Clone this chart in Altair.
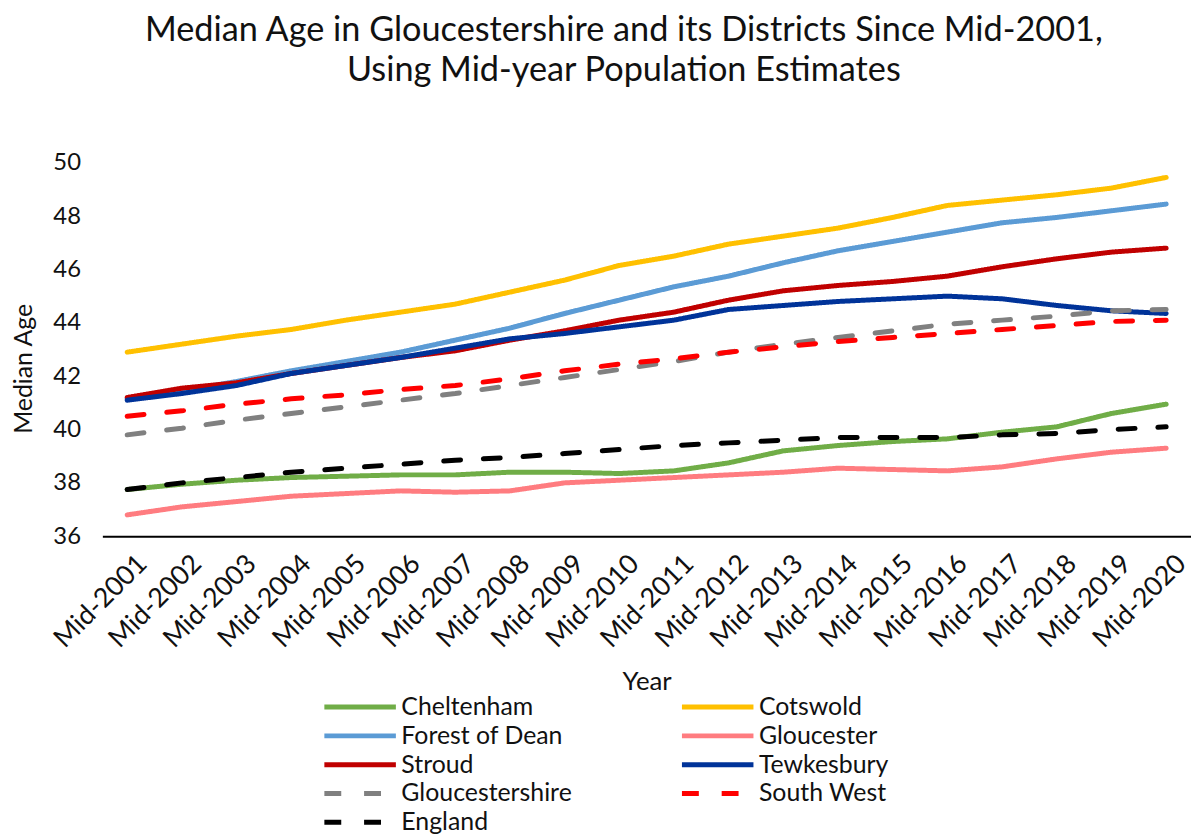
import altair as alt
import pandas as pd

years = [f"Mid-{y}" for y in range(2001, 2021)]

cheltenham = [37.75, 37.95, 38.1, 38.2, 38.25, 38.3, 38.3, 38.4, 38.4, 38.35,
              38.45, 38.75, 39.2, 39.4, 39.55, 39.65, 39.9, 40.1, 40.6, 40.95]
cotswold = [42.9, 43.2, 43.5, 43.75, 44.1, 44.4, 44.7, 45.15, 45.6, 46.15,
            46.5, 46.95, 47.25, 47.55, 47.95, 48.4, 48.6, 48.8, 49.05, 49.45]
forest_of_dean = [41.15, 41.45, 41.8, 42.2, 42.55, 42.9, 43.35, 43.8, 44.35, 44.85,
                  45.35, 45.75, 46.25, 46.7, 47.05, 47.4, 47.75, 47.95, 48.2, 48.45]
gloucester = [36.8, 37.1, 37.3, 37.5, 37.6, 37.7, 37.65, 37.7, 38.0, 38.1,
              38.2, 38.3, 38.4, 38.55, 38.5, 38.45, 38.6, 38.9, 39.15, 39.3]
stroud = [41.2, 41.55, 41.75, 42.1, 42.4, 42.7, 42.95, 43.35, 43.7, 44.1,
          44.4, 44.85, 45.2, 45.4, 45.55, 45.75, 46.1, 46.4, 46.65, 46.8]
tewkesbury = [41.1, 41.35, 41.65, 42.1, 42.4, 42.7, 43.05, 43.4, 43.6, 43.85,
              44.1, 44.5, 44.65, 44.8, 44.9, 45.0, 44.9, 44.65, 44.45, 44.35]
gloucestershire = [39.8, 40.05, 40.35, 40.6, 40.85, 41.1, 41.35, 41.65, 41.95, 42.25,
                   42.55, 42.9, 43.2, 43.45, 43.7, 43.95, 44.1, 44.25, 44.45, 44.5]
south_west = [40.5, 40.7, 40.95, 41.15, 41.3, 41.5, 41.65, 41.9, 42.2, 42.45,
              42.65, 42.9, 43.1, 43.3, 43.45, 43.6, 43.75, 43.9, 44.05, 44.1]
england = [37.75, 38.0, 38.2, 38.4, 38.55, 38.7, 38.85, 38.95, 39.1, 39.25,
           39.4, 39.5, 39.6, 39.7, 39.7, 39.7, 39.8, 39.85, 40.0, 40.1]

series_names = ["Cheltenham", "Cotswold", "Forest of Dean", "Gloucester", "Stroud",
                "Tewkesbury", "Gloucestershire", "South West", "England"]
series_values = [cheltenham, cotswold, forest_of_dean, gloucester, stroud,
                 tewkesbury, gloucestershire, south_west, england]
colors = ["#70AD47", "#FFC000", "#5B9BD5", "#FF7C80", "#C00000",
          "#003399", "#808080", "#FF0000", "#000000"]
dashes = [[1, 0], [1, 0], [1, 0], [1, 0], [1, 0], [1, 0], [17, 23], [17, 23], [17, 23]]

rows = []
for si, (name, vals) in enumerate(zip(series_names, series_values)):
    for yi, (yr, v) in enumerate(zip(years, vals)):
        rows.append({"Year": yr, "Median Age": v, "Series": name, "order": si})
df = pd.DataFrame(rows)

FONT = "Lato"
TXT = "#111111"

legend_kw = dict(title=None, orient="none", legendX=221, legendY=536,
                 direction="horizontal", columns=2, columnPadding=108, rowPadding=4,
                 clipHeight=24, symbolType="stroke", symbolSize=5184,
                 symbolStrokeWidth=5, labelFontSize=25, labelOffset=3,
                 labelColor=TXT, labelLimit=400)

chart = alt.Chart(df).mark_line(strokeWidth=5, strokeCap="round", strokeJoin="round").encode(
    x=alt.X("Year:N", sort=years,
            scale=alt.Scale(type="point", padding=0.454),
            axis=alt.Axis(title="Year", labelAngle=-45, ticks=False, tickSize=0,
                          labelPadding=14, labelOffset=6,
                          domainColor="#000000", domainWidth=2,
                          labelFontSize=27, titleFontSize=26, titleFontWeight="normal",
                          titleX=548, titleY=146, titleBaseline="middle",
                          labelColor=TXT, titleColor=TXT)),
    y=alt.Y("Median Age:Q",
            scale=alt.Scale(domain=[36, 50], nice=False, zero=False),
            axis=alt.Axis(title="Median Age", values=[36, 38, 40, 42, 44, 46, 48, 50],
                          domain=False, ticks=False, tickSize=0, grid=False,
                          labelPadding=22, labelFontSize=24, titleFontSize=25,
                          titleFontWeight="normal", titleX=-79, titleY=207,
                          titleBaseline="middle", titleAngle=-90,
                          labelColor=TXT, titleColor=TXT)),
    color=alt.Color("Series:N", sort=series_names,
                    scale=alt.Scale(domain=series_names, range=colors),
                    legend=alt.Legend(**legend_kw)),
    strokeDash=alt.StrokeDash("Series:N", sort=series_names,
                              scale=alt.Scale(domain=series_names, range=dashes),
                              legend=alt.Legend(**legend_kw)),
    order=alt.Order("order:Q"),
).properties(
    width=1096,
    height=376,
    autosize=alt.AutoSizeParams(type="none"),
    padding={"left": 95, "top": 153, "right": 0, "bottom": 299},
    title=alt.TitleParams(
        text=["Median Age in Gloucestershire and its Districts Since Mid-2001,",
              "Using Mid-year Population Estimates"],
        anchor="middle", frame="group", offset=63, dx=-23,
        fontSize=34.5, lineHeight=40, font=FONT, fontWeight="normal", color=TXT),
).configure(
    font=FONT,
).configure_view(
    stroke=None,
)

chart.save("out.html", embed_options={"renderer": "svg", "actions": False})
